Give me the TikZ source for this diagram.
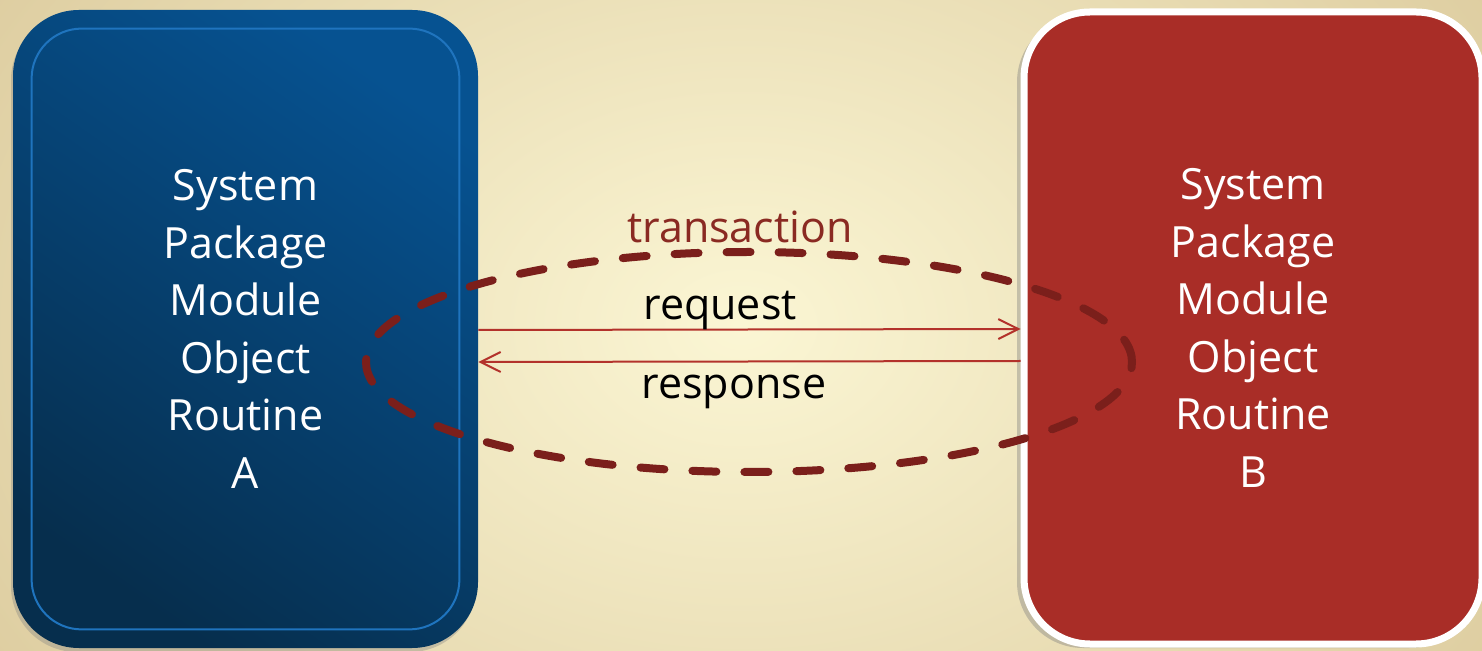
\documentclass[tikz,border=0pt]{standalone}
\usepackage{fontspec}
\setmainfont{Open Sans}
\usetikzlibrary{positioning,shadows,arrows.meta}
\definecolor{cream}{HTML}{FBF6D4}
\definecolor{tan}{HTML}{CDB683}
\definecolor{bluetop}{HTML}{065291}
\definecolor{bluebot}{HTML}{062E4D}
\definecolor{blueline}{HTML}{1F74BE}
\definecolor{boxred}{HTML}{A92D27}
\definecolor{darkred}{HTML}{7B1F1B}
\definecolor{arrowred}{HTML}{B3322B}
\definecolor{transred}{HTML}{8A2A22}
\tikzset{
  unit/.style={rectangle,rounded corners=33pt,align=center,text=white,
    font=\fontsize{21.5}{28.75}\selectfont},
  link/.style={draw=arrowred,line width=1pt,-{Straight Barb[length=10pt,width=10pt]}},
  tag/.style={font=\fontsize{21.5}{26}\selectfont}
}
\begin{document}
\begin{tikzpicture}[x=0.5pt,y=-0.5pt]
		\useasboundingbox (0,0) rectangle (1482,651);
		\shade[inner color=cream,outer color=tan] (-650,-700) rectangle (2132,1351);
		% the two ends of the transaction
		\node (boxA) [unit,minimum width=232.5pt,minimum height=319pt,
			top color=bluetop,bottom color=bluebot,shading angle=-35,
			drop shadow={shadow xshift=-1pt,shadow yshift=-2pt,opacity=0.35}] at (245.5,329)
			{System\\Package\\Module\\Object\\Routine\\A};
		\draw [blueline,line width=1pt,rounded corners=25pt]
			([shift={(9.5pt,-9.5pt)}]boxA.north west) rectangle ([shift={(-9.5pt,9.5pt)}]boxA.south east);
		\node (boxB) [unit,minimum width=229pt,minimum height=316pt,fill=boxred,draw=white,line width=3.5pt,
			drop shadow={shadow xshift=-3.5pt,shadow yshift=-2pt,opacity=0.4}] at (1253,328)
			{System\\Package\\Module\\Object\\Routine\\B};
		% messages
		\draw [link] ([yshift=-0.5pt]boxA.east) -- ([yshift=-0.5pt]boxB.west);
		\draw [link] ([yshift=-16.5pt]boxB.west) -- ([yshift=-16.5pt]boxA.east);
		\node (req) [tag] at (720,310) {request};
		\node (resp) [tag] at (734,392) {response};
		\node (trans) [tag,text=transred] at (740,227) {transaction};
		\draw [darkred,line width=4pt,line cap=round,dash pattern=on 12pt off 14pt]
			(749,362) ellipse [x radius=191.5pt,y radius=55pt];
\end{tikzpicture}
\end{document}
